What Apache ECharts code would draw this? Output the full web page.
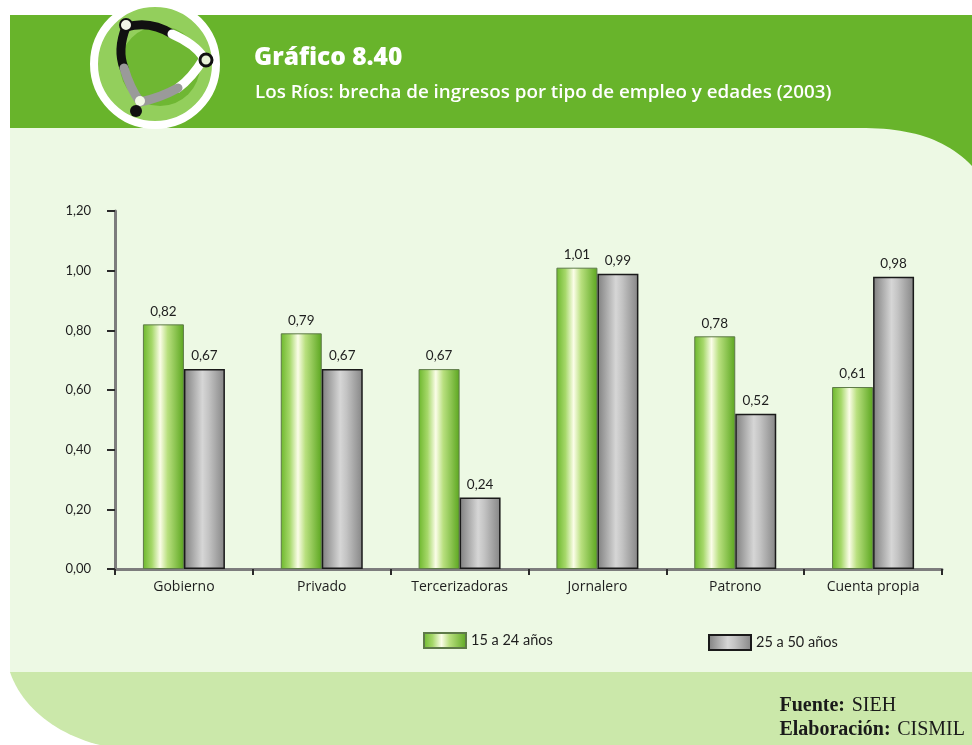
<!DOCTYPE html>
<html>
<head>
<meta charset="utf-8">
<title>Gráfico 8.40</title>
<script src="https://cdn.jsdelivr.net/npm/echarts@6/dist/echarts.min.js"></script>
<style>
  html, body { margin: 0; padding: 0; background: #ffffff; }
  #chart { width: 972px; height: 745px; }
</style>
</head>
<body>
<div id="chart"></div>
<script>
// Employment types and income gap by age group
const categories = ['Gobierno', 'Privado', 'Tercerizadoras', 'Jornalero', 'Patrono', 'Cuenta propia'];
const seriesNames = ['15 a 24 años', '25 a 50 años'];
const young = [0.82, 0.79, 0.67, 1.01, 0.78, 0.61];
const adult = [0.67, 0.67, 0.24, 0.99, 0.52, 0.98];
const yTicks = { min: 0, max: 1.2, interval: 0.2 };

const comma = v => Number(v).toFixed(2).replace('.', ',');

// sample a cubic bezier into polygon points (for the decorative frame)
function cubic(p0, p1, p2, p3, n) {
  const pts = [];
  for (let i = 0; i <= n; i++) {
    const t = i / n, u = 1 - t;
    pts.push([
      u * u * u * p0[0] + 3 * u * u * t * p1[0] + 3 * u * t * t * p2[0] + t * t * t * p3[0],
      u * u * u * p0[1] + 3 * u * u * t * p1[1] + 3 * u * t * t * p2[1] + t * t * t * p3[1]
    ]);
  }
  return pts;
}

const headerTail = cubic([860, 128], [910, 128], [945, 138], [972, 166], 24).concat([[972, 128]]);
const footerBand = [[10, 672], [972, 672], [972, 745]].concat(cubic([100, 745], [58, 735], [22, 708], [10, 672], 24));

const greenFill = new echarts.graphic.LinearGradient(0, 0, 1, 0, [
  { offset: 0, color: '#6cb72c' },
  { offset: 0.22, color: '#a6d86a' },
  { offset: 0.42, color: '#fbfde8' },
  { offset: 0.6, color: '#b9e07f' },
  { offset: 1, color: '#5ba61f' }
]);
const grayFill = new echarts.graphic.LinearGradient(0, 0, 1, 0, [
  { offset: 0, color: '#7f7f7f' },
  { offset: 0.45, color: '#d6d6d6' },
  { offset: 0.6, color: '#c4c4c4' },
  { offset: 1, color: '#858585' }
]);

function stroke(x1, y1, cx, cy, x2, y2, color) {
  return {
    type: 'bezierCurve', z: -4,
    shape: { x1: x1, y1: y1, cpx1: cx, cpy1: cy, x2: x2, y2: y2 },
    style: { stroke: color, lineWidth: 9, fill: null, lineCap: 'round' }
  };
}

const chart = echarts.init(document.getElementById('chart'), null, { renderer: 'canvas' });

const labelStyle = {
  show: true,
  position: 'top',
  distance: 6,
  fontFamily: 'Lato',
  fontSize: 13.5,
  color: '#1e1e1e',
  formatter: p => comma(p.value)
};

chart.setOption({
  backgroundColor: '#ffffff',
  animation: false,
  graphic: [
    // header band
    { type: 'rect', z: -10, shape: { x: 10, y: 15, width: 962, height: 113 }, style: { fill: '#68b42b' } },
    // pale plot background
    { type: 'rect', z: -10, shape: { x: 10, y: 128, width: 962, height: 545 }, style: { fill: '#edf9e4' } },
    // curved right end of the header
    { type: 'polygon', z: -9, shape: { points: headerTail }, style: { fill: '#68b42b' } },
    // footer band
    { type: 'polygon', z: -9, shape: { points: footerBand }, style: { fill: '#cbe8aa' } },
    // logo
    { type: 'circle', z: -5, shape: { cx: 155, cy: 64, r: 61 }, style: { fill: '#93cf5c', stroke: '#ffffff', lineWidth: 8 } },
    { type: 'circle', z: -5, shape: { cx: 160, cy: 66, r: 40 }, style: { fill: '#6fb733' } },
    stroke(126, 27, 150, 20, 172, 34, '#111111'),
    stroke(172, 34, 195, 44, 204, 58, '#ffffff'),
    stroke(204, 58, 192, 78, 178, 88, '#ffffff'),
    stroke(178, 88, 160, 98, 140, 102, '#9a9a9a'),
    stroke(126, 27, 117, 50, 124, 68, '#111111'),
    stroke(124, 68, 130, 88, 140, 102, '#9a9a9a'),
    { type: 'circle', z: -3, shape: { cx: 126, cy: 25, r: 6 }, style: { fill: '#f2f8e8', stroke: '#111111', lineWidth: 2 } },
    { type: 'circle', z: -3, shape: { cx: 206, cy: 60, r: 6 }, style: { fill: '#e8f3d8', stroke: '#111111', lineWidth: 3 } },
    { type: 'circle', z: -3, shape: { cx: 140, cy: 101, r: 5 }, style: { fill: '#f2f8e8' } },
    { type: 'circle', z: -3, shape: { cx: 136, cy: 111, r: 6 }, style: { fill: '#111111' } },
    // title
    { type: 'text', left: 254, top: 46, style: { text: 'Gráfico 8.40', fill: '#ffffff', font: '800 24.5px "Open Sans"' } },
    { type: 'text', left: 255, top: 83, style: { text: 'Los Ríos: brecha de ingresos por tipo de empleo y edades (2003)', fill: '#ffffff', font: '600 18.8px "Open Sans"' } },
    // source notes
    {
      type: 'text', right: 7, top: 694,
      style: {
        text: '{b|Fuente:}  {r|SIEH}\n{b|Elaboración:}  {r|CISMIL}',
        align: 'right',
        lineHeight: 24,
        rich: {
          b: { fontFamily: 'Liberation Serif', fontWeight: 'bold', fontSize: 20, fill: '#1a1a1a', lineHeight: 24 },
          r: { fontFamily: 'Liberation Serif', fontSize: 20, fill: '#1a1a1a', lineHeight: 24 }
        }
      }
    }
  ],
  grid: { left: 115, right: 30, top: 211, bottom: 176, containLabel: false },
  legend: [
    {
      data: [seriesNames[0]], left: 418, top: 627, itemWidth: 42, itemHeight: 15,
      selectedMode: false, icon: 'rect', itemGap: 10,
      textStyle: { fontFamily: 'Lato', fontSize: 14.5, color: '#1e1e1e' }
    },
    {
      data: [seriesNames[1]], left: 703, top: 629, itemWidth: 42, itemHeight: 15,
      selectedMode: false, icon: 'rect', itemGap: 10,
      textStyle: { fontFamily: 'Lato', fontSize: 14.5, color: '#1e1e1e', padding: [4, 0, 0, 0] }
    }
  ],
  xAxis: {
    type: 'category',
    data: categories,
    axisLine: { lineStyle: { color: '#7d7d7d', width: 3 } },
    axisTick: { show: true, length: 6, lineStyle: { color: '#2a2a2a', width: 2 } },
    axisLabel: { margin: 11, fontFamily: 'Open Sans', fontSize: 14, color: '#1e1e1e' }
  },
  yAxis: {
    type: 'value',
    min: yTicks.min,
    max: yTicks.max,
    interval: yTicks.interval,
    splitLine: { show: false },
    axisLine: { show: true, lineStyle: { color: '#7d7d7d', width: 3 } },
    axisTick: { show: true, length: 8, lineStyle: { color: '#2a2a2a', width: 2 } },
    axisLabel: { margin: 24, fontFamily: 'Lato', fontSize: 13, color: '#1e1e1e', formatter: v => comma(v) }
  },
  series: [
    {
      name: seriesNames[0], type: 'bar', data: young, barWidth: 41, barGap: '0%',
      itemStyle: { color: greenFill, borderColor: '#5e7a48', borderWidth: 1 },
      label: labelStyle
    },
    {
      name: seriesNames[1], type: 'bar', data: adult, barWidth: 41, barGap: '0%',
      itemStyle: { color: grayFill, borderColor: '#1a1a1a', borderWidth: 1.5 },
      label: labelStyle
    }
  ]
});
</script>
</body>
</html>
